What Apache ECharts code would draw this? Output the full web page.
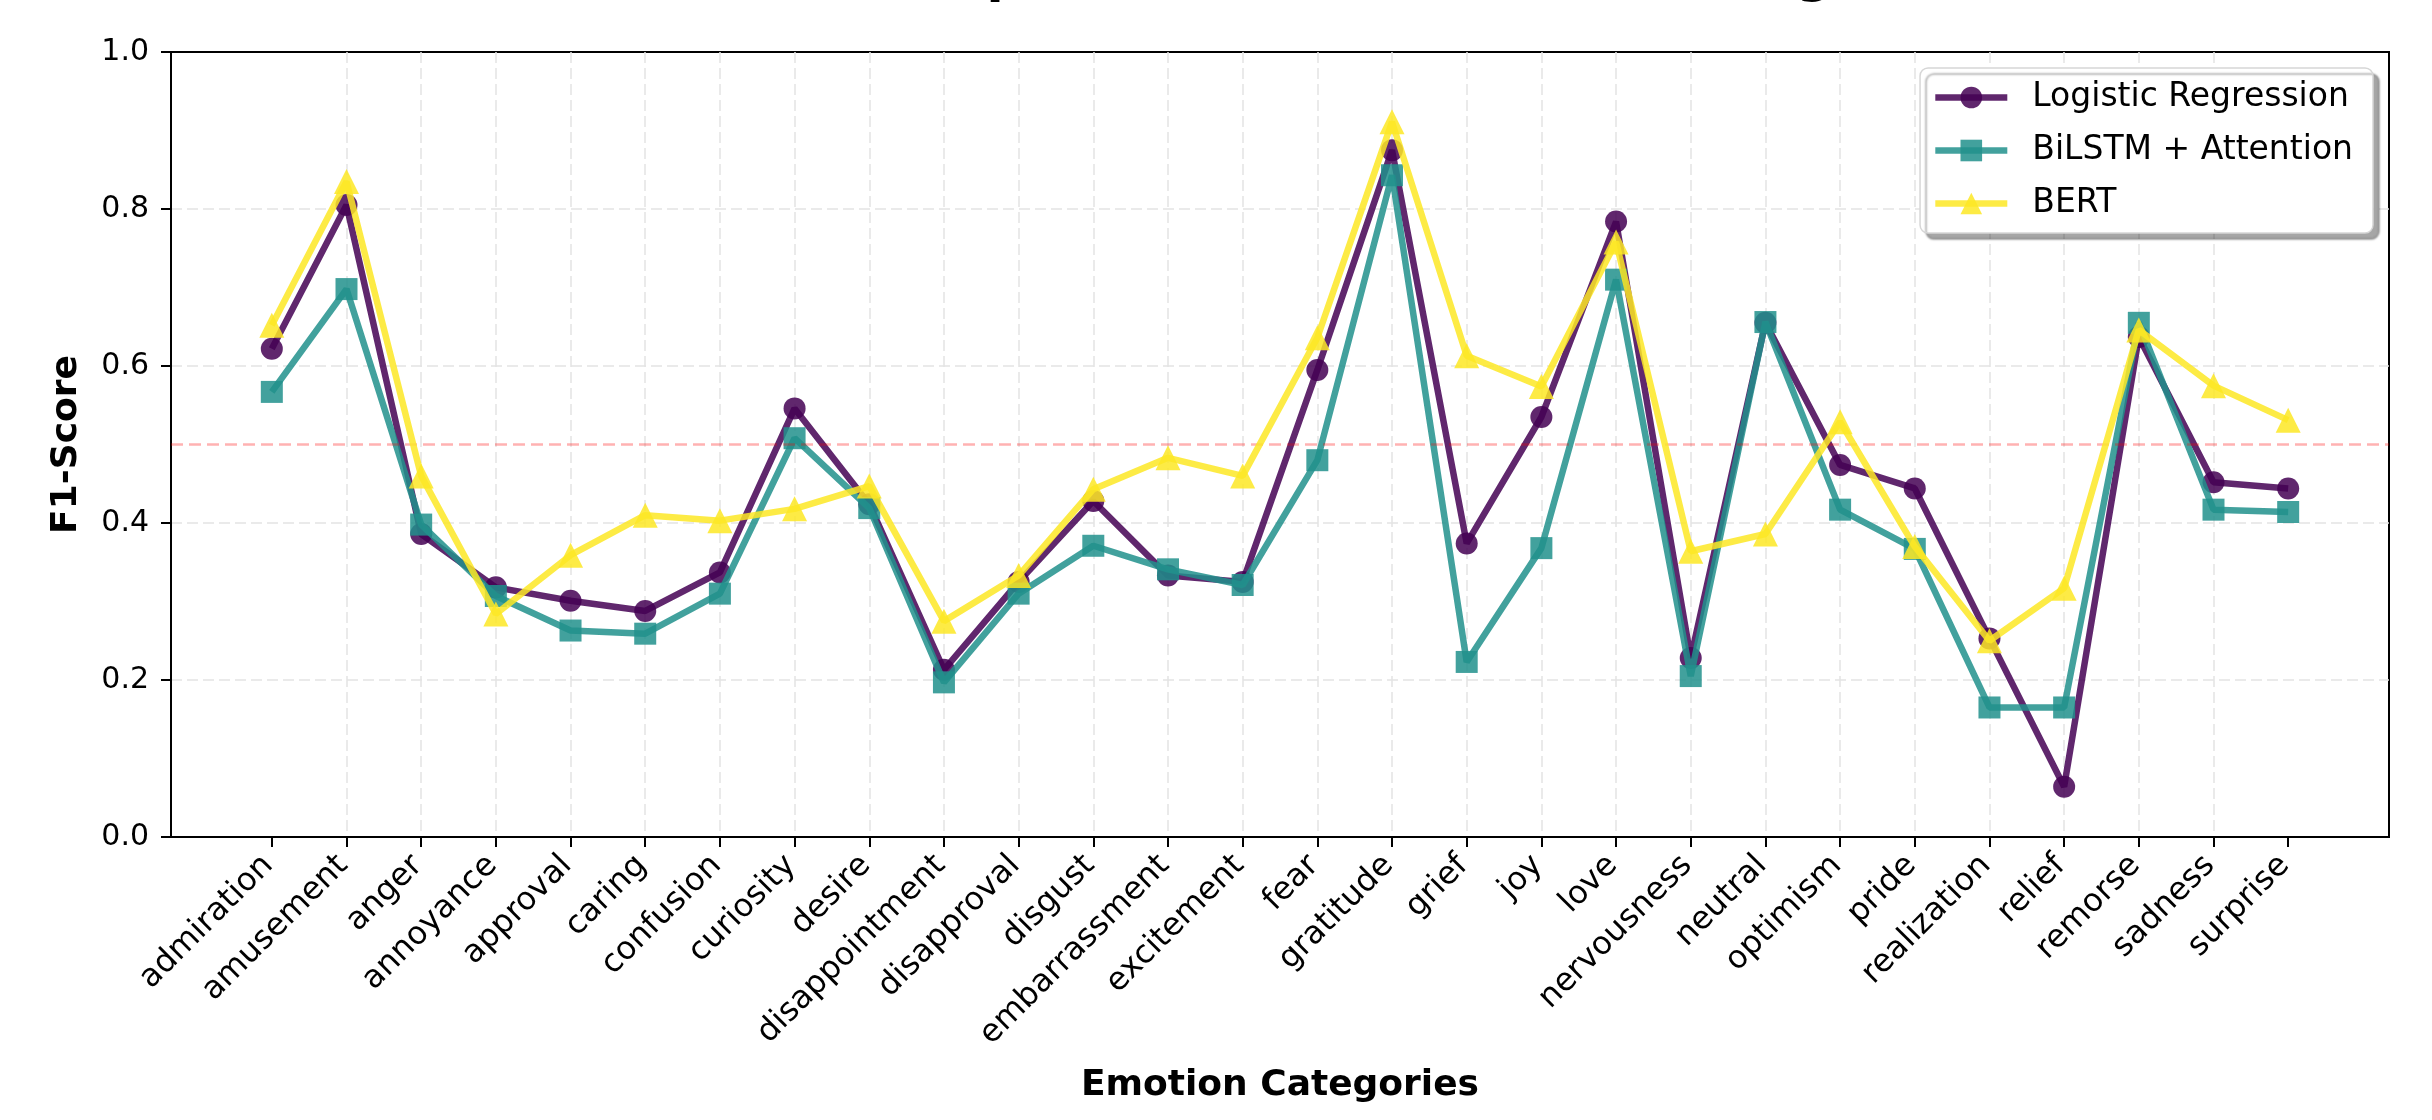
<!DOCTYPE html>
<html>
<head>
<meta charset="utf-8">
<script src="https://cdn.jsdelivr.net/npm/echarts@6/dist/echarts.min.js"></script>
<style>
  html, body { margin: 0; padding: 0; background: #ffffff; }
  #chart { width: 2432px; height: 1120px; }
</style>
</head>
<body>
<div id="chart"></div>
<script>
const categories = ['admiration', 'amusement', 'anger', 'annoyance', 'approval', 'caring', 'confusion',
  'curiosity', 'desire', 'disappointment', 'disapproval', 'disgust', 'embarrassment', 'excitement',
  'fear', 'gratitude', 'grief', 'joy', 'love', 'nervousness', 'neutral', 'optimism', 'pride',
  'realization', 'relief', 'remorse', 'sadness', 'surprise'];

const logisticRegression = [0.622, 0.805, 0.386, 0.318, 0.301, 0.288, 0.337, 0.546, 0.424, 0.213,
  0.325, 0.428, 0.333, 0.325, 0.595, 0.875, 0.374, 0.535, 0.784, 0.228, 0.655, 0.474, 0.444,
  0.253, 0.064, 0.637, 0.452, 0.444];

const bilstmAttention = [0.567, 0.698, 0.398, 0.307, 0.263, 0.259, 0.310, 0.508, 0.419, 0.197,
  0.310, 0.371, 0.341, 0.321, 0.480, 0.843, 0.223, 0.368, 0.710, 0.205, 0.656, 0.417, 0.367,
  0.165, 0.165, 0.655, 0.417, 0.414];

const bert = [0.652, 0.835, 0.460, 0.284, 0.359, 0.410, 0.403, 0.418, 0.447, 0.275,
  0.333, 0.443, 0.483, 0.460, 0.636, 0.911, 0.613, 0.574, 0.758, 0.364, 0.386, 0.529, 0.370,
  0.250, 0.317, 0.646, 0.575, 0.531];

const yTicks = [0.0, 0.2, 0.4, 0.6, 0.8, 1.0];
const threshold = 0.5;

const seriesNames = ['Logistic Regression', 'BiLSTM + Attention', 'BERT'];
const seriesValues = [logisticRegression, bilstmAttention, bert];
const seriesColors = ['#440154', '#21918c', '#fde725'];
const seriesSymbols = ['circle', 'rect', 'triangle'];
const seriesSymbolSizes = [22, 22, 25];

const FONT = 'DejaVu Sans';
const idx = categories.map((c, i) => i);

const chart = echarts.init(document.getElementById('chart'), null, { renderer: 'canvas' });

const series = seriesNames.map((name, s) => ({
  name: name,
  type: 'line',
  data: seriesValues[s].map((v, i) => [i, v]),
  symbol: seriesSymbols[s],
  symbolSize: seriesSymbolSizes[s],
  showAllSymbol: true,
  animation: false,
  lineStyle: { color: seriesColors[s], width: 6.5, opacity: 0.85 },
  itemStyle: { color: seriesColors[s], opacity: 0.85, borderWidth: 0 },
  emphasis: { disabled: true },
  z: 3 + s,
  markLine: s === 0 ? {
    silent: true,
    symbol: 'none',
    label: { show: false },
    lineStyle: { color: 'rgba(255,0,0,0.3)', type: [12, 6], width: 2.5 },
    data: [{ yAxis: threshold }],
    animation: false
  } : undefined
}));

const gridLine = { show: true, showMinLine: false, showMaxLine: false,
  lineStyle: { color: '#e3e3e3', type: [11, 5], width: 1.5 } };

chart.setOption({
  animation: false,
  backgroundColor: '#ffffff',
  title: {
    text: 'F1-Score Comparison Across Emotion Categories',
    left: 1280,
    textAlign: 'center',
    top: -51,
    textStyle: { fontFamily: FONT, fontWeight: 'bold', fontSize: 50, color: '#000000' }
  },
  grid: {
    left: 171, right: 43, top: 52, bottom: 283,
    show: true, borderColor: '#000000', borderWidth: 2, backgroundColor: 'transparent'
  },
  legend: {
    data: seriesNames,
    orient: 'vertical',
    right: 59,
    top: 68,
    padding: [13, 20, 13, 12],
    itemWidth: 72,
    itemHeight: 27,
    itemGap: 20,
    backgroundColor: '#ffffff',
    borderColor: '#d6d6d6',
    borderWidth: 1.5,
    borderRadius: 8,
    shadowColor: 'rgba(0,0,0,0.35)',
    shadowBlur: 2,
    shadowOffsetX: 6,
    shadowOffsetY: 6,
    lineStyle: { width: 6.5 },
    textStyle: { fontFamily: FONT, fontSize: 33, color: '#000000', padding: [0, 0, 0, 20] },
    selectedMode: false
  },
  xAxis: {
    type: 'value',
    min: -1.35,
    max: 28.35,
    name: 'Emotion Categories',
    nameLocation: 'middle',
    nameGap: 231,
    nameTextStyle: { fontFamily: FONT, fontWeight: 'bold', fontSize: 36, color: '#000000' },
    axisLine: { show: true, onZero: false, lineStyle: { color: '#000000', width: 2 } },
    axisTick: { show: true, inside: false, length: 10, lineStyle: { color: '#000000', width: 2 }, customValues: idx },
    axisLabel: {
      show: true,
      customValues: idx,
      rotate: 45,
      margin: 20,
      padding: [0, 5, 0, 0],
      fontFamily: FONT,
      fontSize: 32,
      color: '#000000',
      formatter: v => categories[Math.round(v)] || ''
    },
    splitLine: gridLine
  },
  yAxis: {
    type: 'value',
    min: 0,
    max: 1,
    interval: 0.2,
    name: 'F1-Score',
    nameLocation: 'middle',
    nameGap: 86,
    nameRotate: 90,
    nameTextStyle: { fontFamily: FONT, fontWeight: 'bold', fontSize: 36, color: '#000000' },
    axisLine: { show: true, onZero: false, lineStyle: { color: '#000000', width: 2 } },
    axisTick: { show: true, inside: false, length: 10, lineStyle: { color: '#000000', width: 2 } },
    axisLabel: {
      margin: 22,
      fontFamily: FONT,
      fontSize: 30,
      color: '#000000',
      formatter: v => yTicks.includes(+v.toFixed(1)) ? v.toFixed(1) : ''
    },
    splitLine: gridLine
  },
  series: series
});
</script>
</body>
</html>
